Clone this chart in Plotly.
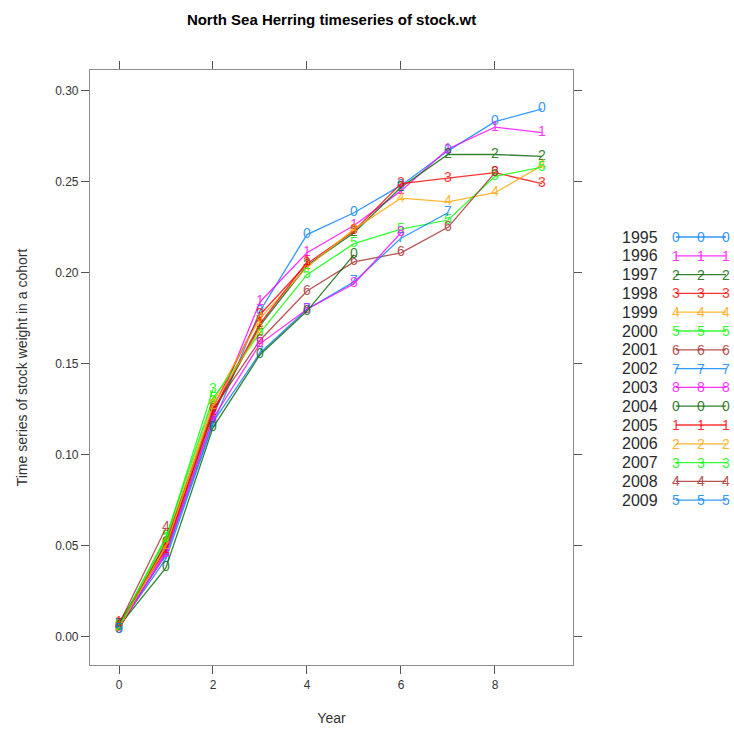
import plotly.graph_objects as go

# Mean stock weight (kg) by age for each year class of North Sea herring
ages = list(range(10))
cohorts = [1995, 1996, 1997, 1998, 1999, 2000, 2001, 2002, 2003, 2004,
           2005, 2006, 2007, 2008, 2009]
symbols = ["0", "1", "2", "3", "4", "5", "6", "7", "8",
           "0", "1", "2", "3", "4", "5"]
colours = ["#0080ff", "#ff00ff", "#006400", "#ff0000", "#ffa500", "#00ff00", "#a52a2a",
           "#0080ff", "#ff00ff", "#006400", "#ff0000", "#ffa500", "#00ff00", "#a52a2a",
           "#0080ff"]

wt_1995 = [0.006, 0.043, 0.117, 0.179, 0.221, 0.233, 0.248, 0.267, 0.283, 0.290]
wt_1996 = [0.005, 0.047, 0.121, 0.184, 0.211, 0.226, 0.245, 0.268, 0.280, 0.277]
wt_1997 = [0.007, 0.049, 0.123, 0.171, 0.204, 0.222, 0.247, 0.265, 0.265, 0.264]
wt_1998 = [0.006, 0.051, 0.126, 0.177, 0.205, 0.223, 0.249, 0.252, 0.255, 0.249]
wt_1999 = [0.005, 0.053, 0.129, 0.175, 0.203, 0.224, 0.241, 0.239, 0.244, 0.259]
wt_2000 = [0.006, 0.055, 0.131, 0.167, 0.199, 0.216, 0.224, 0.229, 0.253, 0.258]
wt_2001 = [0.004, 0.052, 0.125, 0.163, 0.190, 0.206, 0.211, 0.225, 0.255]
wt_2002 = [0.007, 0.045, 0.118, 0.156, 0.180, 0.195, 0.219, 0.233]
wt_2003 = [0.005, 0.046, 0.120, 0.161, 0.180, 0.194, 0.222]
wt_2004 = [0.006, 0.038, 0.115, 0.155, 0.179, 0.210]
wt_2005 = [0.008, 0.048, 0.124, 0.172, 0.206]
wt_2006 = [0.005, 0.050, 0.127, 0.169]
wt_2007 = [0.006, 0.054, 0.136]
wt_2008 = [0.007, 0.060]
wt_2009 = [0.004]

weights = [wt_1995, wt_1996, wt_1997, wt_1998, wt_1999, wt_2000, wt_2001, wt_2002,
           wt_2003, wt_2004, wt_2005, wt_2006, wt_2007, wt_2008, wt_2009]

x_ticks = [0, 2, 4, 6, 8]
y_ticks = [0.00, 0.05, 0.10, 0.15, 0.20, 0.25, 0.30]

FONT = "Liberation Sans, Arial, sans-serif"

fig = go.Figure()
for yc, wt, sym, col in zip(cohorts, weights, symbols, colours):
    fig.add_trace(go.Scatter(
        x=ages[:len(wt)], y=wt, mode="lines+text",
        text=[sym] * len(wt), textposition="middle center",
        textfont=dict(family=FONT, size=14, color=col),
        line=dict(color=col, width=1.3), name=str(yc), opacity=0.8,
        showlegend=False, hoverinfo="x+y+name",
    ))

# plot frame in pixels
L, R, T, B = 90, 573, 70, 665
W, H = 734, 731


def px(xp):
    return (xp - L) / (R - L)


def py(yp):
    return (B - yp) / (B - T)


# key on the right: year, then a short line with three plotting characters
annotations = []
shapes = []
row0, step = 237, 18.8
for i, (yc, sym, col) in enumerate(zip(cohorts, symbols, colours)):
    yy = py(row0 + i * step)
    annotations.append(dict(x=px(660), y=yy, xref="paper", yref="paper",
                            text=str(yc), showarrow=False, xanchor="right",
                            yanchor="middle",
                            font=dict(family=FONT, size=16, color="#2a2a2a")))
    shapes.append(dict(type="line", xref="paper", yref="paper",
                       x0=px(676), x1=px(726), y0=yy, y1=yy, opacity=0.8,
                       line=dict(color=col, width=1.3)))
    for xk in (676, 701, 726):
        annotations.append(dict(x=px(xk), y=yy, xref="paper", yref="paper",
                                text=sym, showarrow=False, xanchor="center",
                                yanchor="middle", opacity=0.8,
                                font=dict(family=FONT, size=14, color=col)))

axis_common = dict(showline=True, linecolor="#8c8c8c", linewidth=1.2, mirror="allticks",
                   ticks="outside", ticklen=8, tickcolor="#555", tickwidth=1,
                   showgrid=False, zeroline=False, automargin=False,
                   tickfont=dict(family=FONT, size=12, color="#333"))

fig.update_layout(
    width=W, height=H,
    margin=dict(l=L, r=W - R, t=T, b=H - B),
    paper_bgcolor="white", plot_bgcolor="white",
    title=dict(text="<b>North Sea Herring timeseries of stock.wt</b>",
               x=0.5, xanchor="center", xref="paper", y=1 - 20 / H, yanchor="middle",
               font=dict(family=FONT, size=15, color="#000")),
    xaxis=dict(range=[-0.617, 9.66], tickvals=x_ticks,
               ticktext=[str(v) for v in x_ticks],
               title=dict(text="Year", standoff=22,
                          font=dict(family=FONT, size=14, color="#333")),
               **axis_common),
    yaxis=dict(range=[-0.0154, 0.3114], tickvals=y_ticks,
               ticktext=[f"{v:.2f}" for v in y_ticks],
               title=dict(text="Time series of stock weight in a cohort", standoff=24,
                          font=dict(family=FONT, size=14, color="#333")),
               **axis_common),
    annotations=annotations, shapes=shapes,
)

fig.write_html("out.html")
